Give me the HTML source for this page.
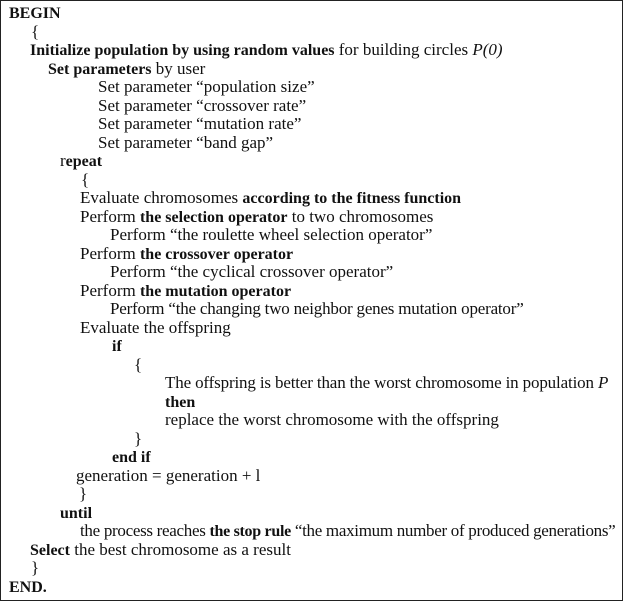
<!DOCTYPE html>
<html><head><style>
body{margin:0;background:#fff;}
#b{position:absolute;left:0;top:0;width:621px;height:599px;border:1px solid #222;}
.l{position:absolute;font-family:"Liberation Serif",serif;font-size:17px;line-height:18px;white-space:nowrap;color:#111;}
b{font-size:16px;}
</style></head><body><div id="b"></div>
<div class="l" style="left:9px;top:4px"><b>BEGIN</b></div>
<div class="l" style="left:31px;top:23px">{</div>
<div class="l" style="left:30px;top:41px"><b>Initialize population by using random values</b> for building circles <i>P(0)</i></div>
<div class="l" style="left:48px;top:60px"><b>Set parameters</b> by user</div>
<div class="l" style="left:98px;top:78px">Set parameter “population size”</div>
<div class="l" style="left:98px;top:97px">Set parameter “crossover rate”</div>
<div class="l" style="left:98px;top:115px">Set parameter “mutation rate”</div>
<div class="l" style="left:98px;top:134px">Set parameter “band gap”</div>
<div class="l" style="left:60px;top:152px">r<b>epeat</b></div>
<div class="l" style="left:81px;top:171px">{</div>
<div class="l" style="left:80px;top:189px">Evaluate chromosomes <b>according to the fitness function</b></div>
<div class="l" style="left:80px;top:208px">Perform <b>the selection operator</b> to two chromosomes</div>
<div class="l" style="left:110px;top:226px">Perform “the roulette wheel selection operator”</div>
<div class="l" style="left:80px;top:245px">Perform <b>the crossover operator</b></div>
<div class="l" style="left:110px;top:263px">Perform “the cyclical crossover operator”</div>
<div class="l" style="left:80px;top:282px">Perform <b>the mutation operator</b></div>
<div class="l" style="left:110px;top:300px;letter-spacing:-0.2px">Perform “the changing two neighbor genes mutation operator”</div>
<div class="l" style="left:80px;top:319px">Evaluate the offspring</div>
<div class="l" style="left:112px;top:337px"><b>if</b></div>
<div class="l" style="left:134px;top:356px">{</div>
<div class="l" style="left:165px;top:374px;letter-spacing:-0.15px">The offspring is better than the worst chromosome in population <i>P</i></div>
<div class="l" style="left:165px;top:393px"><b>then</b></div>
<div class="l" style="left:165px;top:411px">replace the worst chromosome with the offspring</div>
<div class="l" style="left:134px;top:430px">}</div>
<div class="l" style="left:112px;top:448px"><b>end if</b></div>
<div class="l" style="left:76px;top:467px">generation = generation + l</div>
<div class="l" style="left:79px;top:485px">}</div>
<div class="l" style="left:60px;top:504px"><b>until</b></div>
<div class="l" style="left:80px;top:522px;letter-spacing:-0.3px">the process reaches <b>the stop rule</b> “the maximum number of produced generations”</div>
<div class="l" style="left:30px;top:541px"><b>Select</b> the best chromosome as a result</div>
<div class="l" style="left:31px;top:559px">}</div>
<div class="l" style="left:9px;top:578px"><b>END.</b></div>
</body></html>
